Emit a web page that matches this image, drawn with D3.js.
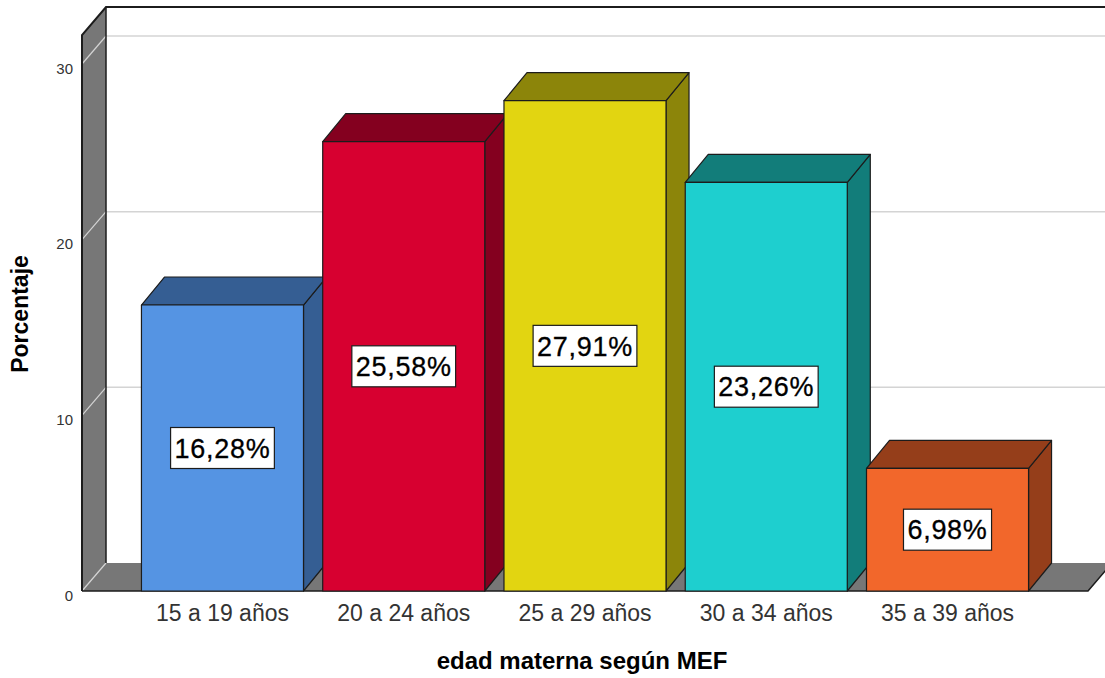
<!DOCTYPE html>
<html lang="es">
<head>
<meta charset="utf-8">
<title>edad materna según MEF</title>
<script src="https://cdn.jsdelivr.net/npm/d3@7"></script>
<style>
  html, body { margin: 0; padding: 0; background: #ffffff; }
  svg { display: block; font-family: "Liberation Sans", Arial, sans-serif; }
</style>
</head>
<body>
<svg id="chart" width="1105" height="678"></svg>
<script>
// Age groups and the share of mothers in each (percent)
const categories = ["15 a 19 años", "20 a 24 años", "25 a 29 años", "30 a 34 años", "35 a 39 años"];
const percentages = [16.28, 25.58, 27.91, 23.26, 6.98];
const valueLabels = ["16,28%", "25,58%", "27,91%", "23,26%", "6,98%"];
const yTicks = [0, 10, 20, 30];
const frontColors = ["#5594e3", "#d70030", "#e2d511", "#1ecfcf", "#f2672b"];
const shadeColors = ["#355e93", "#84001f", "#8c850a", "#127d7a", "#953e1a"];

(function draw() {
  const svg = d3.select("#chart");

  // Front plane of the 3D box and the depth vector toward the back wall
  const plotLeft = 82, plotRight = 1088, plotBottom = 591, plotTop = 35;
  const depth = { dx: 24, dy: -28 };
  const barDepth = { dx: 23, dy: -28 };

  const x = d3.scaleBand()
    .domain(categories)
    .range([plotLeft, plotRight])
    .paddingInner(0.106)
    .paddingOuter(0.328);

  const y = d3.scaleLinear()
    .domain([0, 31.65])
    .range([plotBottom, plotTop]);

  const outline = "#1c1c1c";
  const wallGray = "#777777";
  const gridGray = "#d4d4d4";
  const poly = pts => "M" + pts.map(p => p.join(",")).join("L") + "Z";

  // Left wall
  svg.append("path")
    .attr("d", poly([[plotLeft, plotTop], [plotLeft + depth.dx, plotTop + depth.dy],
                     [plotLeft + depth.dx, plotBottom + depth.dy], [plotLeft, plotBottom]]))
    .attr("fill", wallGray);

  // Floor
  svg.append("path")
    .attr("d", poly([[plotLeft, plotBottom], [plotRight, plotBottom],
                     [plotRight + depth.dx, plotBottom + depth.dy], [plotLeft + depth.dx, plotBottom + depth.dy]]))
    .attr("fill", wallGray);

  // Grid lines on the back wall and the left wall
  const grid = svg.append("g");
  yTicks.forEach(v => {
    if (v > 0) {
      grid.append("line")
        .attr("x1", plotLeft + depth.dx).attr("x2", 1115)
        .attr("y1", y(v) + depth.dy).attr("y2", y(v) + depth.dy)
        .attr("stroke", gridGray).attr("stroke-width", 1.5);
    }
    grid.append("line")
      .attr("x1", plotLeft).attr("y1", y(v))
      .attr("x2", plotLeft + depth.dx).attr("y2", y(v) + depth.dy)
      .attr("stroke", gridGray).attr("stroke-width", 1.2);
  });

  // Frame edges
  const frame = svg.append("g").attr("fill", "none").attr("stroke", outline);
  frame.append("path")
    .attr("d", `M${plotLeft},${plotBottom}L${plotLeft},${plotTop}L${plotLeft + depth.dx},${plotTop + depth.dy}L1115,${plotTop + depth.dy}`)
    .attr("stroke-width", 2);
  frame.append("path")
    .attr("d", `M${plotLeft + depth.dx},${plotTop + depth.dy}L${plotLeft + depth.dx},${plotBottom + depth.dy}`)
    .attr("stroke-width", 1.5);
  frame.append("path")
    .attr("d", `M${plotLeft},${plotBottom}L${plotRight},${plotBottom}L${plotRight + depth.dx},${plotBottom + depth.dy}`)
    .attr("stroke-width", 1.5);

  // Bars as 3D boxes, drawn left to right so each front face covers the previous side face
  const bars = svg.append("g");
  categories.forEach((c, i) => {
    const x0 = x(c), x1 = x(c) + x.bandwidth();
    const yt = y(percentages[i]), yb = y(0);
    const g = bars.append("g").attr("stroke", outline).attr("stroke-width", 1.2).attr("stroke-linejoin", "round");
    // side face
    g.append("path")
      .attr("d", poly([[x1, yt], [x1 + barDepth.dx, yt + barDepth.dy],
                       [x1 + barDepth.dx, yb + barDepth.dy], [x1, yb]]))
      .attr("fill", shadeColors[i]);
    // top face
    g.append("path")
      .attr("d", poly([[x0, yt], [x0 + barDepth.dx, yt + barDepth.dy],
                       [x1 + barDepth.dx, yt + barDepth.dy], [x1, yt]]))
      .attr("fill", shadeColors[i]);
    // front face
    g.append("rect")
      .attr("x", x0).attr("y", yt)
      .attr("width", x1 - x0).attr("height", yb - yt)
      .attr("fill", frontColors[i]);
  });

  // Value labels in boxes at the middle of each bar
  const labels = svg.append("g");
  categories.forEach((c, i) => {
    const cx = x(c) + x.bandwidth() / 2;
    const cy = (y(percentages[i]) + y(0)) / 2;
    const g = labels.append("g");
    const box = g.append("rect");
    const t = g.append("text")
      .attr("x", cx).attr("y", cy)
      .attr("text-anchor", "middle")
      .attr("dy", "0.36em")
      .attr("font-size", 27)
      .attr("letter-spacing", 0.7)
      .attr("stroke", "#000").attr("stroke-width", 0.3)
      .attr("fill", "#000")
      .text(valueLabels[i]);
    const bb = t.node().getBBox();
    box.attr("x", bb.x - 4).attr("y", cy - 20.5)
      .attr("width", bb.width + 8).attr("height", 41)
      .attr("fill", "#ffffff").attr("stroke", outline).attr("stroke-width", 1.2);
  });

  // Y axis tick labels
  const yAxis = svg.append("g")
    .attr("transform", `translate(${plotLeft},0)`)
    .call(d3.axisLeft(y).tickValues(yTicks).tickSize(0).tickPadding(9));
  yAxis.select(".domain").remove();
  yAxis.selectAll("text")
    .attr("font-size", 15).attr("font-family", "Liberation Sans, Arial, sans-serif")
    .attr("fill", "#333").attr("dy", "0.62em");

  // X axis category labels
  const xAxis = svg.append("g")
    .attr("transform", `translate(0,${plotBottom})`)
    .call(d3.axisBottom(x).tickSize(0).tickPadding(14));
  xAxis.select(".domain").remove();
  xAxis.selectAll("text")
    .attr("font-size", 23).attr("font-family", "Liberation Sans, Arial, sans-serif")
    .attr("fill", "#333");

  // Axis titles
  svg.append("text")
    .attr("x", 582).attr("y", 669)
    .attr("text-anchor", "middle")
    .attr("font-size", 24).attr("font-weight", "bold").attr("fill", "#000")
    .text("edad materna según MEF");

  svg.append("text")
    .attr("transform", "translate(28,314) rotate(-90)")
    .attr("text-anchor", "middle")
    .attr("font-size", 23).attr("font-weight", "bold").attr("fill", "#000")
    .text("Porcentaje");
})();
</script>
</body>
</html>
